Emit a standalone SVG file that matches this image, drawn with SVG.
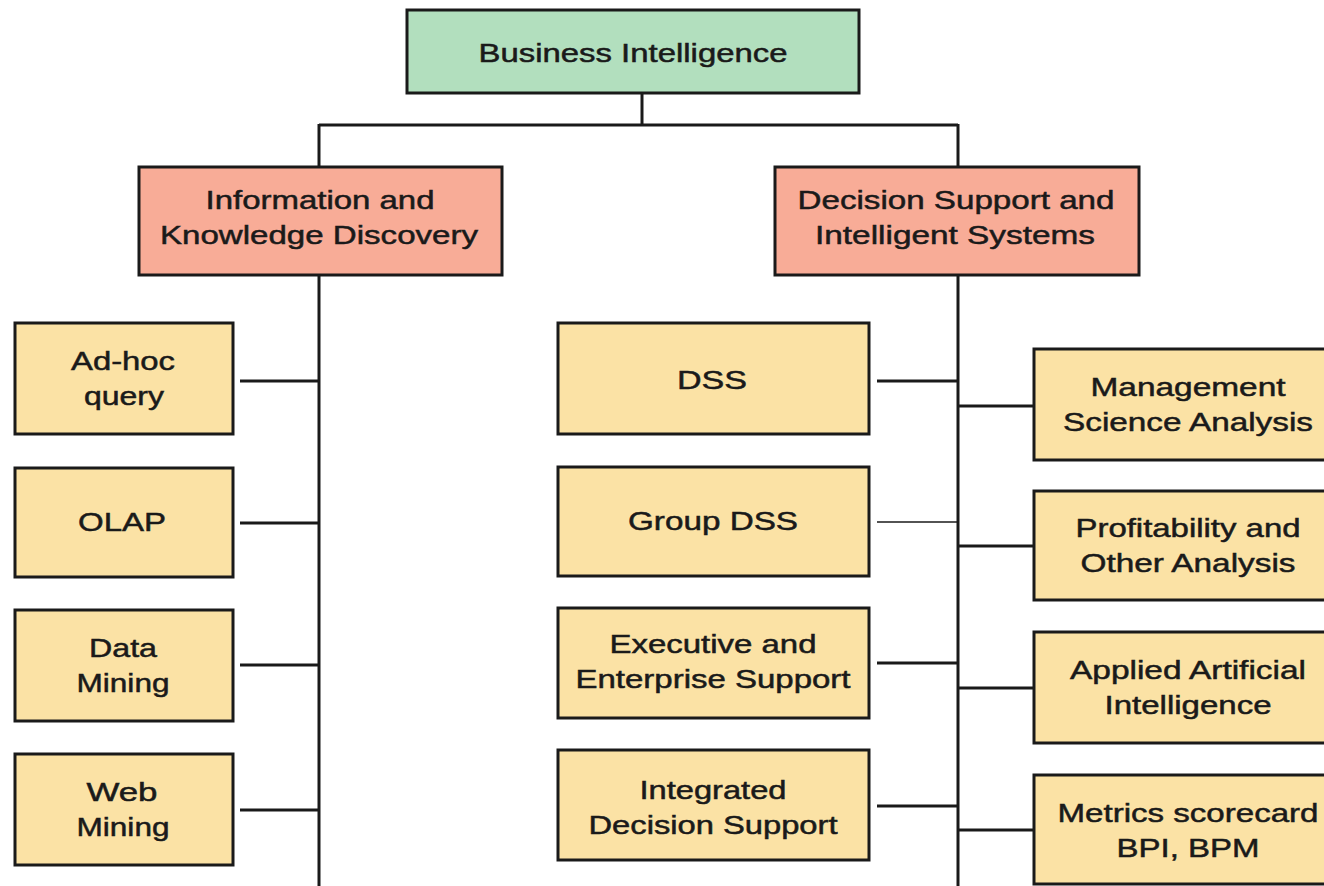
<svg xmlns="http://www.w3.org/2000/svg" width="1324" height="886" viewBox="0 0 1324 886">
<style>
.box{stroke:#1a1a1a;stroke-width:3}
.g{fill:#b2dfbe}.s{fill:#f8ac97}.y{fill:#fbe2a5}
text{font-family:"Liberation Sans",Arial,sans-serif;font-size:26px;fill:#1a1a1a;stroke:#1a1a1a;stroke-width:0.5;text-anchor:middle}
.c line{stroke:#1a1a1a;stroke-width:3}
</style>
<rect width="1324" height="886" fill="#ffffff"/>
<g class="c" id="connectors">
<line x1="642" y1="93" x2="642" y2="125"/>
<line x1="319" y1="125" x2="958" y2="125"/>
<line x1="319" y1="124" x2="319" y2="167"/>
<line x1="958" y1="124" x2="958" y2="167"/>
<line x1="319" y1="275" x2="319" y2="886"/>
<line x1="958" y1="275" x2="958" y2="886"/>
<line x1="240" y1="381" x2="319" y2="381"/>
<line x1="240" y1="523" x2="319" y2="523"/>
<line x1="240" y1="665" x2="319" y2="665"/>
<line x1="240" y1="810" x2="319" y2="810"/>
<line x1="877" y1="381" x2="958" y2="381"/>
<line x1="877" y1="522" x2="958" y2="522" style="stroke-width:1.5"/>
<line x1="877" y1="663" x2="958" y2="663"/>
<line x1="877" y1="806" x2="958" y2="806"/>
<line x1="958" y1="406" x2="1034" y2="406"/>
<line x1="958" y1="546" x2="1034" y2="546"/>
<line x1="958" y1="688" x2="1034" y2="688"/>
<line x1="958" y1="830" x2="1034" y2="830"/>
</g>
<g id="bi"><rect class="box g" x="407" y="10" width="452" height="83"/><text x="633" y="62" textLength="309" lengthAdjust="spacingAndGlyphs">Business Intelligence</text></g>
<g id="ikd"><rect class="box s" x="139" y="167" width="363" height="108"/><text x="320" y="209" textLength="229" lengthAdjust="spacingAndGlyphs">Information and</text><text x="319" y="244" textLength="318" lengthAdjust="spacingAndGlyphs">Knowledge Discovery</text></g>
<g id="dsis"><rect class="box s" x="775" y="167" width="364" height="108"/><text x="956" y="209" textLength="317" lengthAdjust="spacingAndGlyphs">Decision Support and</text><text x="955" y="244" textLength="280" lengthAdjust="spacingAndGlyphs">Intelligent Systems</text></g>
<g id="adhoc"><rect class="box y" x="15" y="323" width="218" height="111"/><text x="123" y="370" textLength="104" lengthAdjust="spacingAndGlyphs">Ad-hoc</text><text x="124" y="405" textLength="80" lengthAdjust="spacingAndGlyphs">query</text></g>
<g id="olap"><rect class="box y" x="15" y="468" width="218" height="109"/><text x="122" y="531" textLength="88" lengthAdjust="spacingAndGlyphs">OLAP</text></g>
<g id="dm"><rect class="box y" x="15" y="610" width="218" height="111"/><text x="123" y="657" textLength="68" lengthAdjust="spacingAndGlyphs">Data</text><text x="123" y="692" textLength="93" lengthAdjust="spacingAndGlyphs">Mining</text></g>
<g id="wm"><rect class="box y" x="15" y="754" width="218" height="111"/><text x="122" y="801" textLength="71" lengthAdjust="spacingAndGlyphs">Web</text><text x="123" y="836" textLength="93" lengthAdjust="spacingAndGlyphs">Mining</text></g>
<g id="dss"><rect class="box y" x="558" y="323" width="311" height="111"/><text x="712" y="389" textLength="70" lengthAdjust="spacingAndGlyphs">DSS</text></g>
<g id="gdss"><rect class="box y" x="558" y="467" width="311" height="109"/><text x="713" y="530" textLength="170" lengthAdjust="spacingAndGlyphs">Group DSS</text></g>
<g id="ees"><rect class="box y" x="558" y="608" width="311" height="110"/><text x="713" y="653" textLength="207" lengthAdjust="spacingAndGlyphs">Executive and</text><text x="713" y="688" textLength="275" lengthAdjust="spacingAndGlyphs">Enterprise Support</text></g>
<g id="ids"><rect class="box y" x="558" y="750" width="311" height="110"/><text x="713" y="799" textLength="147" lengthAdjust="spacingAndGlyphs">Integrated</text><text x="713" y="834" textLength="249" lengthAdjust="spacingAndGlyphs">Decision Support</text></g>
<g id="msa"><rect class="box y" x="1034" y="349" width="310" height="111"/><text x="1188" y="396" textLength="195" lengthAdjust="spacingAndGlyphs">Management</text><text x="1188" y="431" textLength="250" lengthAdjust="spacingAndGlyphs">Science Analysis</text></g>
<g id="poa"><rect class="box y" x="1034" y="491" width="310" height="109"/><text x="1188" y="537" textLength="225" lengthAdjust="spacingAndGlyphs">Profitability and</text><text x="1188" y="572" textLength="215" lengthAdjust="spacingAndGlyphs">Other Analysis</text></g>
<g id="aai"><rect class="box y" x="1034" y="632" width="310" height="111"/><text x="1188" y="679" textLength="236" lengthAdjust="spacingAndGlyphs">Applied Artificial</text><text x="1188" y="714" textLength="167" lengthAdjust="spacingAndGlyphs">Intelligence</text></g>
<g id="msc"><rect class="box y" x="1034" y="775" width="310" height="109"/><text x="1188" y="822" textLength="261" lengthAdjust="spacingAndGlyphs">Metrics scorecard</text><text x="1188" y="857" textLength="143" lengthAdjust="spacingAndGlyphs">BPI, BPM</text></g>
</svg>
